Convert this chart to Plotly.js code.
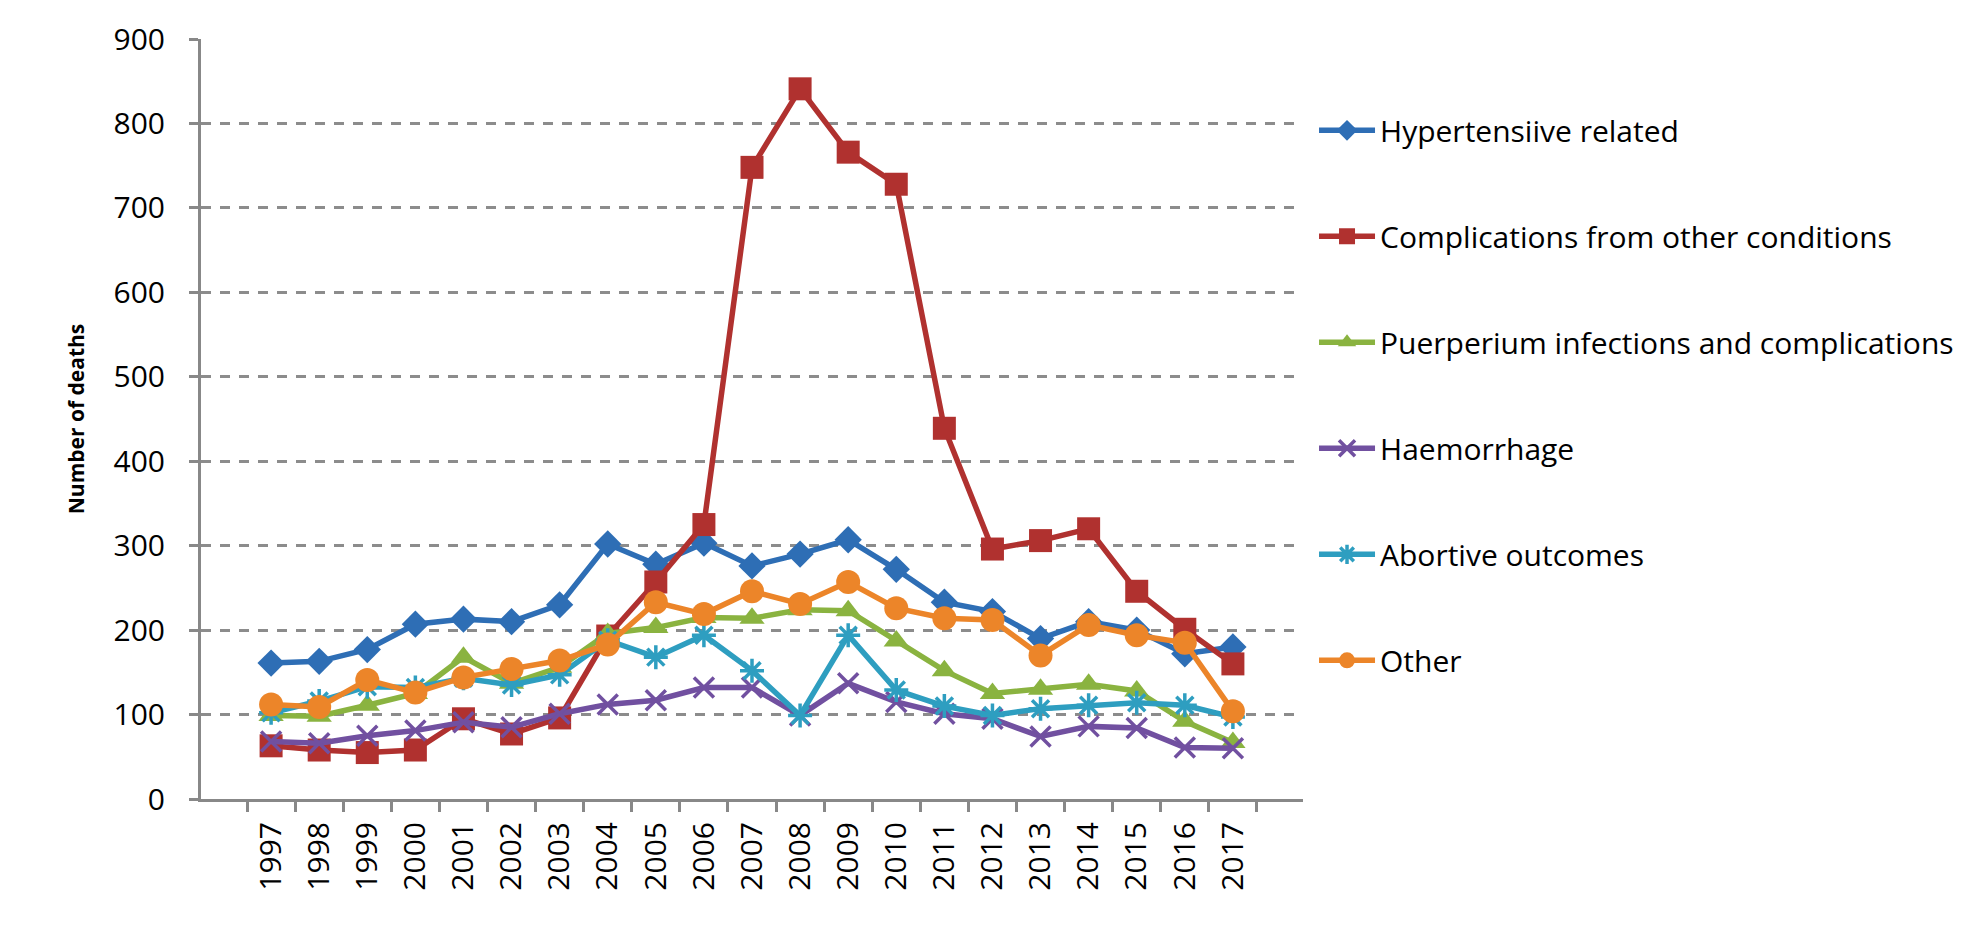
<!DOCTYPE html>
<html>
<head>
<meta charset="utf-8">
<script src="https://cdn.plot.ly/plotly-3.0.1.min.js"></script>
<style>html,body{margin:0;padding:0;background:#fff;}#chart{width:1975px;height:937px;}</style>
</head>
<body>
<div id="chart"></div>
<script>
var years = ['1997','1998','1999','2000','2001','2002','2003','2004','2005','2006','2007','2008','2009','2010','2011','2012','2013','2014','2015','2016','2017'];
var hypertensive = [161,163,177,207,213,210,230,302,278,303,276,290,307,272,233,222,190,210,200,172,180];
var complications = [63,58,55,58,95,77,96,193,257,325,748,841,766,728,439,296,306,320,246,201,160];
var puerperium = [99,98,111,125,168,137,156,196,203,215,214,224,223,187,152,125,130,136,128,92,67];
var haemorrhage = [68,66,75,81,91,85,101,112,117,132,132,99,137,115,101,95,74,86,84,61,60];
var abortive = [102,116,133,132,143,135,147,188,168,194,152,99,194,129,110,99,107,111,114,111,97];
var other = [112,109,141,126,144,154,164,183,233,219,246,231,257,226,214,212,170,206,194,185,104];

var seriesNames = ['Hypertensiive related','Complications from other conditions','Puerperium infections and complications','Haemorrhage','Abortive outcomes','Other'];
var seriesData = [hypertensive, complications, puerperium, haemorrhage, abortive, other];
var colors = ['#2E6EB5','#B0312F','#8AB340','#7150A0','#2E9EC0','#EC8529'];
var symbols = ['diamond','square','triangle-up','x-thin','asterisk','circle'];
var sizes = [21,23,22,20,20,24];

var traces = seriesData.map(function(d,i){
  var open = (symbols[i]==='x-thin' || symbols[i]==='asterisk');
  return {
    type:'scatter', mode:'lines+markers', x:years, y:d, name:seriesNames[i],
    legendgroup:'g'+i,
    line:{color:colors[i], width:5.5},
    marker:{symbol:symbols[i], size:sizes[i], color:colors[i],
      line:{color:colors[i], width: open?3.5:0}}
  };
});

var layout = {
  width:1975, height:937,
  margin:{l:201, r:672, t:39, b:138},
  paper_bgcolor:'#fff', plot_bgcolor:'#fff',
  font:{family:'"Open Sans", sans-serif', size:30, color:'#000'},
  showlegend:true,
  legend:{x:1.01, xanchor:'left', y:0.914, yanchor:'top', tracegroupgap:64, itemwidth:56,
    font:{size:30, family:'"Open Sans", sans-serif', color:'#000'}, bgcolor:'rgba(0,0,0,0)'},
  xaxis:{type:'category', showgrid:false, showline:true, linecolor:'#888', linewidth:3,
    ticks:'outside', tickson:'boundaries', ticklen:10, tickwidth:3, tickcolor:'#888',
    tickangle:-90, tickfont:{size:30}, ticklabelstandoff:8, zeroline:false},
  yaxis:{range:[0,900], dtick:100, showline:true, linecolor:'#888', linewidth:3,
    ticks:'outside', ticklen:9, tickwidth:3, tickcolor:'#888',
    showgrid:true, gridcolor:'#8c8c8c', gridwidth:3, griddash:'10px,9px',
    zeroline:false, tickfont:{size:30}, ticklabelstandoff:18,
    title:{text:'<b>Number of deaths</b>', font:{size:21}, standoff:24}}
};

Plotly.newPlot('chart', traces, layout, {displayModeBar:false, staticPlot:true});
</script>
</body>
</html>
